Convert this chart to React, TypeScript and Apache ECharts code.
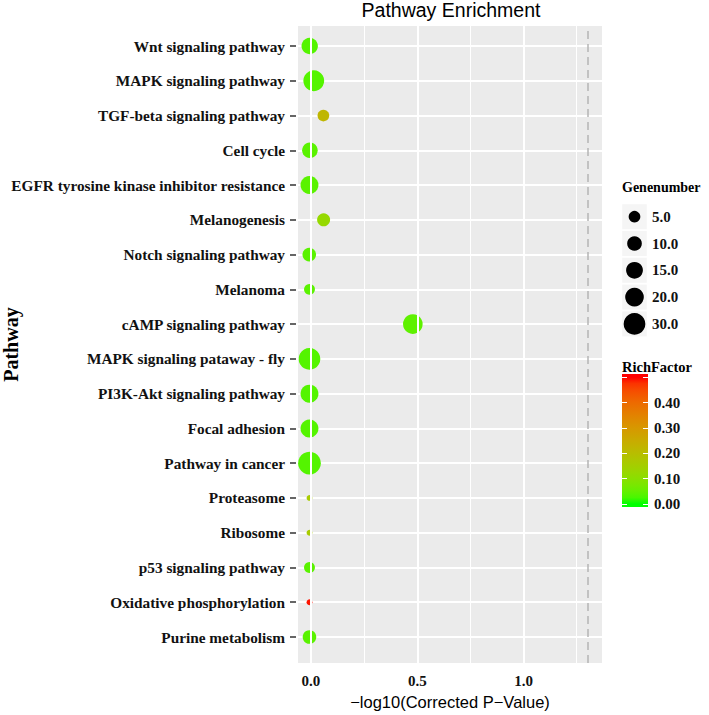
import React, { useEffect, useRef } from 'react';
import * as echarts from 'echarts';

// ---------------- data ----------------
const pathways = [
  'Wnt signaling pathway',
  'MAPK signaling pathway',
  'TGF-beta signaling pathway',
  'Cell cycle',
  'EGFR tyrosine kinase inhibitor resistance',
  'Melanogenesis',
  'Notch signaling pathway',
  'Melanoma',
  'cAMP signaling pathway',
  'MAPK signaling pataway - fly',
  'PI3K-Akt signaling pathway',
  'Focal adhesion',
  'Pathway in cancer',
  'Proteasome',
  'Ribosome',
  'p53 signaling pathway',
  'Oxidative phosphorylation',
  'Purine metabolism',
];
const negLog10P = [0.003, 0.022, 0.067, 0.004, 0.002, 0.068, 0.001, 0.002, 0.485, 0.002, 0.002, 0.002, 0.002, 0.002, 0.002, 0.002, 0.002, 0.002];
const geneNumber = [14, 27, 5, 12, 18, 7, 8, 4, 23, 30, 18, 18, 34, 1, 1, 4, 1, 8];
const richFactor = [0.035, 0.035, 0.22, 0.04, 0.04, 0.12, 0.04, 0.04, 0.045, 0.035, 0.035, 0.035, 0.035, 0.16, 0.16, 0.04, 0.49, 0.04];

const sizeBreaks = [5, 10, 15, 20, 30];
const sizeLabels = ['5.0', '10.0', '15.0', '20.0', '30.0'];
const colorTickValues = [0, 0.1, 0.2, 0.3, 0.4, 0.5];
const colorLabelValues = [0, 0.1, 0.2, 0.3, 0.4];
const xLabelValues = [0, 0.5, 1.0];
const xMajorGrid = [0, 0.5, 1.0];
const xMinorGrid = [0.25, 0.75, 1.25];
const significance = 0.05;
const richLimits = [0, 0.5];

// ---------------- helpers ----------------
const SERIF = '"Liberation Serif", "Times New Roman", serif';
const SANS = '"Liberation Sans", Arial, sans-serif';

function sizeFn(v: number) {
  return 5.8 + 2.95 * Math.sqrt(Math.max(v - 1, 0));
}

function hexToRgb(h: string) {
  return [1, 3, 5].map((i) => parseInt(h.slice(i, i + 2), 16) / 255);
}
function lin(c: number) {
  return c <= 0.04045 ? c / 12.92 : Math.pow((c + 0.055) / 1.055, 2.4);
}
function gam(c: number) {
  const v = c <= 0.0031308 ? 12.92 * c : 1.055 * Math.pow(c, 1 / 2.4) - 0.055;
  return Math.round(Math.min(1, Math.max(0, v)) * 255);
}
function toLab(hex: string) {
  const [r, g, b] = hexToRgb(hex).map(lin);
  const X = (0.4124 * r + 0.3576 * g + 0.1805 * b) / 0.95047;
  const Y = 0.2126 * r + 0.7152 * g + 0.0722 * b;
  const Z = (0.0193 * r + 0.1192 * g + 0.9505 * b) / 1.08883;
  const f = (t: number) => (t > 0.008856 ? Math.cbrt(t) : 7.787 * t + 16 / 116);
  const fx = f(X), fy = f(Y), fz = f(Z);
  return [116 * fy - 16, 500 * (fx - fy), 200 * (fy - fz)];
}
function fromLab([L, a, b]: number[]) {
  const fy = (L + 16) / 116;
  const fx = fy + a / 500;
  const fz = fy - b / 200;
  const inv = (t: number) => (t * t * t > 0.008856 ? t * t * t : (t - 16 / 116) / 7.787);
  const X = inv(fx) * 0.95047, Y = inv(fy), Z = inv(fz) * 1.08883;
  const r = 3.2406 * X - 1.5372 * Y - 0.4986 * Z;
  const g = -0.9689 * X + 1.8758 * Y + 0.0415 * Z;
  const bb = 0.0557 * X - 0.204 * Y + 1.057 * Z;
  return '#' + [r, g, bb].map((c) => gam(c).toString(16).padStart(2, '0')).join('');
}
function labRamp(low: string, high: string, n: number) {
  const a = toLab(low), b = toLab(high);
  const out: string[] = [];
  for (let i = 0; i < n; i++) {
    const t = i / (n - 1);
    out.push(fromLab(a.map((v, k) => v + (b[k] - v) * t)));
  }
  return out;
}

const ramp = labRamp('#00FF00', '#FF0000', 21);

const X_MIN = -0.061;
const X_MAX = 1.369;
const CB_PAD = 0.0125;

export default function App() {
  const ref = useRef<HTMLDivElement>(null);
  useEffect(() => {
    if (!ref.current) return;
    const chart = echarts.init(ref.current, null, { renderer: 'svg' });

    const cbMin = richLimits[0] - CB_PAD;
    const cbMax = richLimits[1] + CB_PAD;
    const gradient = new echarts.graphic.LinearGradient(
      0, 1, 0, 0,
      ramp.map((c, i) => ({
        offset: (richLimits[0] + (i / (ramp.length - 1)) * (richLimits[1] - richLimits[0]) - cbMin) / (cbMax - cbMin),
        color: c,
      }))
    );

    const labelFont = { fontFamily: SERIF, fontWeight: 'bold' as const, fontSize: 15.3, color: '#111' };
    const legendFont = { fontFamily: SERIF, fontWeight: 'bold' as const, fontSize: 15, color: '#111' };

    const mainData = pathways.map((p, i) => [negLog10P[i], p, richFactor[i], geneNumber[i]]);

    chart.setOption({
      animation: false,
      backgroundColor: '#ffffff',
      grid: [
        { left: 296, right: 107, top: 26, bottom: 48, show: true, backgroundColor: '#EBEBEB', borderWidth: 0, z: 0 },
        { left: 296, right: 107, top: 46, bottom: 78 },
        { left: 622, width: 25, top: 203.3, height: 134 },
        { left: 622, width: 26, top: 374, height: 133, show: true, backgroundColor: gradient, borderWidth: 0 },
      ],
      xAxis: [
        {
          gridIndex: 0, type: 'value', min: X_MIN, max: X_MAX,
          axisLine: { show: false, onZero: false }, axisTick: { show: false }, splitLine: { show: false },
          axisLabel: { customValues: xLabelValues, formatter: (v: number) => v.toFixed(1), margin: 10, ...legendFont },
          name: '\u2212log10(Corrected P\u2212Value)', nameLocation: 'middle', nameGap: 29,
          nameTextStyle: { fontFamily: SANS, fontSize: 16.5, color: '#000' },
        },
        { gridIndex: 1, type: 'value', min: X_MIN, max: X_MAX, show: false, axisLine: { onZero: false } },
        { gridIndex: 2, type: 'value', min: -1, max: 1, show: false, axisLine: { onZero: false } },
        { gridIndex: 3, type: 'value', min: 0, max: 1, show: false, axisLine: { onZero: false } },
      ],
      yAxis: [
        {
          gridIndex: 0, type: 'value', min: 0, max: 1,
          axisLine: { show: false, onZero: false }, axisTick: { show: false }, axisLabel: { show: false }, splitLine: { show: false },
          name: 'Pathway', nameLocation: 'middle', nameGap: 277,
          nameTextStyle: { fontFamily: SERIF, fontWeight: 'bold', fontSize: 20, color: '#000' },
        },
        {
          gridIndex: 1, type: 'category', data: pathways, inverse: true, boundaryGap: false, z: 1,
          axisLine: { show: false, onZero: false },
          axisTick: { show: true, length: 6, lineStyle: { color: '#333', width: 1.5 } },
          axisLabel: { margin: 11, interval: 0, ...labelFont },
          splitLine: { show: true, interval: 0, lineStyle: { color: '#ffffff', width: 2 } },
        },
        {
          gridIndex: 2, type: 'category', data: sizeLabels, inverse: true, position: 'right',
          axisLine: { show: false, onZero: false }, axisTick: { show: false }, splitLine: { show: false },
          axisLabel: { margin: 5, ...legendFont },
        },
        {
          gridIndex: 3, type: 'value', min: cbMin, max: cbMax, position: 'right', z: 3,
          axisLine: { show: false, onZero: false }, splitLine: { show: false },
          axisTick: { show: true, inside: true, length: 5, customValues: colorTickValues, lineStyle: { color: '#ffffff', width: 1 } },
          axisLabel: { customValues: colorLabelValues, formatter: (v: number) => v.toFixed(2), margin: 6, ...legendFont },
        },
        {
          gridIndex: 3, type: 'value', min: cbMin, max: cbMax, position: 'left', z: 3,
          axisLine: { show: false, onZero: false }, splitLine: { show: false }, axisLabel: { show: false },
          axisTick: { show: true, inside: true, length: 5, customValues: colorTickValues, lineStyle: { color: '#ffffff', width: 1 } },
        },
      ],
      visualMap: {
        type: 'continuous', show: false, min: richLimits[0], max: richLimits[1], dimension: 2, seriesIndex: 1,
        inRange: { color: ramp },
      },
      series: [
        {
          type: 'scatter', xAxisIndex: 0, yAxisIndex: 0, data: [], silent: true, z: 1,
          markLine: {
            silent: true, symbol: ['none', 'none'], label: { show: false },
            data: [
              ...xMajorGrid.map((v) => ({ xAxis: v, lineStyle: { color: '#ffffff', width: 2, type: 'solid' } })),
              ...xMinorGrid.map((v) => ({ xAxis: v, lineStyle: { color: '#ffffff', width: 1, type: 'solid' } })),
              { xAxis: -Math.log10(significance), lineStyle: { color: '#B5B5B5', width: 1.5, type: [8, 5] } },
            ],
          },
        },
        {
          type: 'scatter', xAxisIndex: 1, yAxisIndex: 1, z: 3,
          data: mainData,
          encode: { x: 0, y: 1 },
          symbolSize: (val: any[]) => sizeFn(val[3]),
          itemStyle: { opacity: 1 },
        },
        {
          type: 'scatter', xAxisIndex: 2, yAxisIndex: 2, z: 1, silent: true,
          data: sizeLabels.map((l) => [0, l]),
          symbol: 'rect', symbolSize: [24.5, 25],
          itemStyle: { color: '#F2F2F2' },
        },
        {
          type: 'scatter', xAxisIndex: 2, yAxisIndex: 2, z: 2,
          data: sizeBreaks.map((v, i) => [0, sizeLabels[i], v]),
          symbolSize: (val: any[]) => sizeFn(val[2]),
          itemStyle: { color: '#000000', opacity: 1 },
        },
      ],
      graphic: [
        {
          type: 'text', x: 451, y: 0,
          style: { text: 'Pathway Enrichment', font: `19.5px ${SANS}`, fill: '#000', align: 'center', verticalAlign: 'top' },
        },
        {
          type: 'text', x: 622, y: 180,
          style: { text: 'Genenumber', font: `bold 14px ${SERIF}`, fill: '#000', align: 'left', verticalAlign: 'top' },
        },
        {
          type: 'text', x: 622, y: 359,
          style: { text: 'RichFactor', font: `bold 14.5px ${SERIF}`, fill: '#000', align: 'left', verticalAlign: 'top' },
        },
      ],
    });
    return () => chart.dispose();
  }, []);
  return <div ref={ref} style={{ position: 'absolute', left: 0, top: 0, width: 709, height: 715 }} />;
}
